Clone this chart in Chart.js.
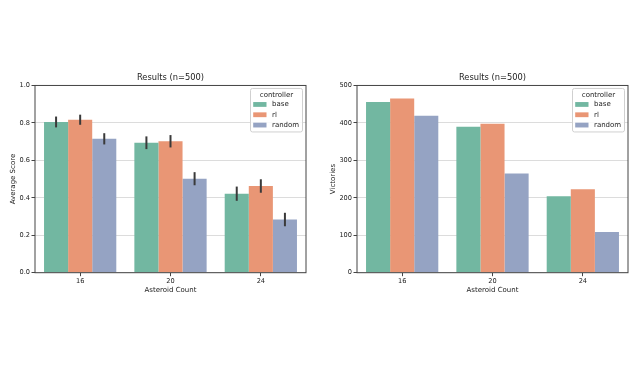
<!DOCTYPE html>
<html>
<head>
<meta charset="utf-8">
<script src="https://cdn.jsdelivr.net/npm/chart.js@4"></script>
<style>
  body { margin: 0; background: #fff; }
  #wrap { position: relative; width: 640px; height: 384px; }
  canvas { position: absolute; top: 0; }
</style>
</head>
<body>
<div id="wrap">
  <canvas id="scoreChart" width="320" height="384" style="left:0"></canvas>
  <canvas id="winChart" width="320" height="384" style="left:320px"></canvas>
</div>
<script>
// asteroid counts on the x axis
const counts = ["16", "20", "24"];
const controllers = ["base", "rl", "random"];
const colors = ["#72b7a1", "#e99675", "#95a3c3"];

// average score per controller (left plot) + 95% ci half width
const scoreBase = [0.805, 0.694, 0.422];
const scoreRl = [0.817, 0.702, 0.463];
const scoreRandom = [0.715, 0.502, 0.284];
const errBase = [0.029, 0.034, 0.038];
const errRl = [0.027, 0.033, 0.036];
const errRandom = [0.030, 0.035, 0.036];

// victories out of 500 (right plot)
const winBase = [456, 390, 204];
const winRl = [465, 398, 223];
const winRandom = [419, 265, 109];

const textColor = "#222";
const fontFam = "'DejaVu Sans', sans-serif";

// frame around axes + error bars + legend box
const extras = {
    id: "extras",
    afterLayout(chart) {
        // center the title over the plot area, like matplotlib
        if (chart.titleBlock) {
            chart.titleBlock.left = chart.chartArea.left;
            chart.titleBlock.right = chart.chartArea.right;
            chart.titleBlock.width = chart.chartArea.right - chart.chartArea.left;
        }
    },
    afterDatasetsDraw(chart) {
        const c = chart.ctx, a = chart.chartArea;
        c.save();
        c.strokeStyle = "#444";
        c.lineWidth = 1;
        c.strokeRect(a.left, a.top, a.right - a.left, a.bottom - a.top);

        const errs = chart.options.plugins.extras.errors;
        if (errs) {
            const y = chart.scales.y;
            c.strokeStyle = "#3a3a3a";
            c.lineWidth = 2;
            chart.data.datasets.forEach(function (ds, i) {
                chart.getDatasetMeta(i).data.forEach(function (bar, j) {
                    const v = ds.data[j], e = errs[i][j];
                    c.beginPath();
                    c.moveTo(bar.x, y.getPixelForValue(v - e));
                    c.lineTo(bar.x, y.getPixelForValue(v + e));
                    c.stroke();
                });
            });
        }

        // legend
        const w = 52, h = 43.5;
        const lx = a.right - 3.5 - w, ly = a.top + 3;
        c.fillStyle = "rgba(255,255,255,0.85)";
        c.strokeStyle = "#d0d0d0";
        c.lineWidth = 1;
        c.beginPath();
        c.roundRect(lx, ly, w, h, 2);
        c.fill();
        c.stroke();
        c.fillStyle = textColor;
        c.font = "7px " + fontFam;
        c.textBaseline = "middle";
        c.textAlign = "center";
        c.fillText("controller", lx + w / 2, ly + 6.5);
        c.textAlign = "left";
        chart.data.datasets.forEach(function (ds, i) {
            const cy = ly + 16 + i * 10.3;
            c.fillStyle = ds.backgroundColor;
            c.fillRect(lx + 2.7, cy - 2.4, 13.3, 4.8);
            c.fillStyle = textColor;
            c.fillText(ds.label, lx + 21.5, cy);
        });
        c.restore();
    }
};

function makeChart(id, series, errors, yTitle, yMax, yStep, yWidth, fmt) {
    new Chart(document.getElementById(id), {
        type: "bar",
        data: {
            labels: counts,
            datasets: controllers.map(function (name, i) {
                return {
                    label: name,
                    data: series[i],
                    backgroundColor: colors[i],
                    borderWidth: 0,
                    categoryPercentage: 0.8,
                    barPercentage: 1.0
                };
            })
        },
        options: {
            responsive: false,
            animation: false,
            devicePixelRatio: 1,
            layout: { padding: { left: 0, right: 320 - yWidth - 271, top: 72.5, bottom: 87.3 } },
            plugins: {
                legend: { display: false },
                tooltip: { enabled: false },
                title: {
                    display: true,
                    text: "Results (n=500)",
                    color: textColor,
                    font: { family: fontFam, size: 8.3, weight: "normal" },
                    padding: { top: 0, bottom: 3 }
                },
                extras: { errors: errors }
            },
            scales: {
                x: {
                    afterFit: function (s) { s.height = 24; },
                    border: { display: false },
                    grid: { display: true, drawOnChartArea: false, offset: false, tickLength: 3.5, tickColor: "#444" },
                    ticks: { color: textColor, padding: 1.3, font: { family: fontFam, size: 6.6 } },
                    title: {
                        display: true, text: "Asteroid Count", color: textColor,
                        font: { family: fontFam, size: 7 }, padding: { top: 0, bottom: 2 }
                    }
                },
                y: {
                    min: 0,
                    max: yMax,
                    afterFit: function (s) { s.width = yWidth; },
                    border: { display: false },
                    grid: { color: "#dcdcdc", tickLength: 3.5, tickColor: "#444" },
                    ticks: {
                        stepSize: yStep, color: textColor, padding: 1.5,
                        font: { family: fontFam, size: 6.6 },
                        callback: fmt
                    },
                    title: {
                        display: true, text: yTitle, color: textColor,
                        font: { family: fontFam, size: 7 }, padding: { top: 8.5, bottom: 0 }
                    }
                }
            }
        },
        plugins: [extras]
    });
}

makeChart("scoreChart", [scoreBase, scoreRl, scoreRandom], [errBase, errRl, errRandom],
    "Average Score", 1.0, 0.2, 35, function (v) { return v.toFixed(1); });
makeChart("winChart", [winBase, winRl, winRandom], null,
    "Victories", 500, 100, 37, function (v) { return v; });
</script>
</body>
</html>
